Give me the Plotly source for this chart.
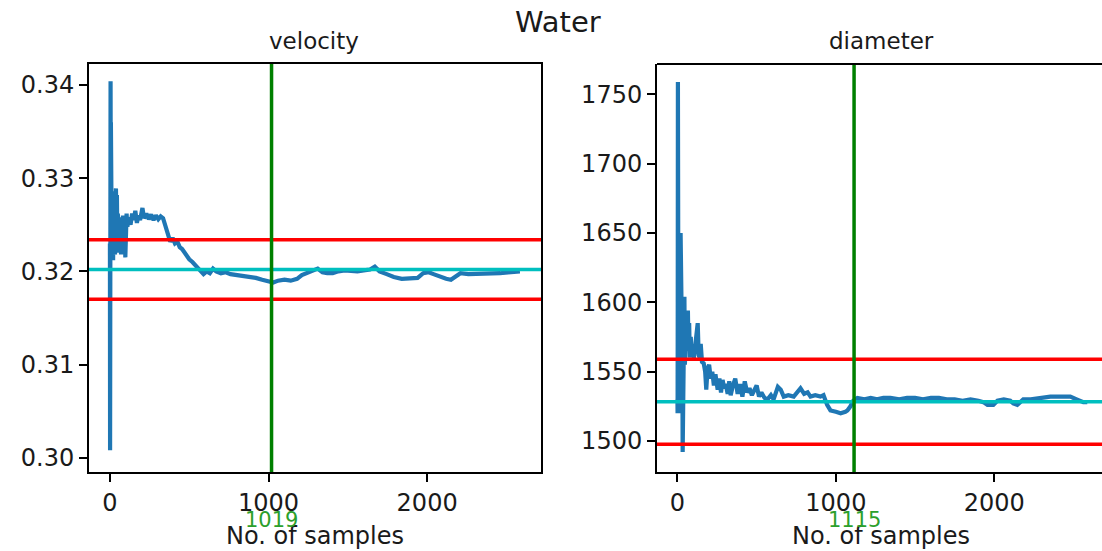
import plotly.graph_objects as go

# ---------------- data ----------------
vel_samples = [0, 1, 2, 3, 4, 5, 6, 7, 8, 9, 10, 12, 14, 16, 18, 20, 23, 26, 29, 32, 35, 38, 41, 44, 47,
               50, 54, 58, 62, 66, 70, 74, 78, 82, 86, 90, 94, 97, 100, 105, 110, 120, 130, 140, 150,
               160, 170, 180, 190, 200, 205, 215, 230, 245, 260, 275, 290, 305, 320, 335, 350, 365,
               380, 395, 410, 425, 440, 455, 470, 485, 500, 520, 540, 560, 575, 590, 610, 630, 650,
               670, 700, 730, 760, 800, 840, 880, 920, 960, 1000, 1030, 1060, 1100, 1140, 1180, 1210,
               1250, 1280, 1310, 1340, 1370, 1405, 1440, 1480, 1520, 1560, 1600, 1640, 1670, 1700,
               1745, 1790, 1840, 1890, 1940, 1975, 2010, 2040, 2080, 2120, 2150, 2180, 2210, 2260,
               2310, 2360, 2410, 2460, 2510, 2550, 2585]
vel_values = [0.3230, 0.3008, 0.3150, 0.3270, 0.3404, 0.3300, 0.3360, 0.3250, 0.3310, 0.3220, 0.3289,
              0.3215, 0.3275, 0.3235, 0.3286, 0.3212, 0.3280, 0.3230, 0.3270, 0.3218, 0.3265, 0.3289,
              0.3240, 0.3282, 0.3225, 0.3262, 0.3220, 0.3258, 0.3230, 0.3255, 0.3218, 0.3250, 0.3238,
              0.3260, 0.3245, 0.3258, 0.3250, 0.3215, 0.3250, 0.3262, 0.3248, 0.3258, 0.3250, 0.3262,
              0.3255, 0.3265, 0.3252, 0.3260, 0.3255, 0.3262, 0.3268, 0.3257, 0.3262, 0.3256, 0.3261,
              0.3255, 0.3260, 0.3256, 0.3259, 0.3257, 0.3248, 0.3240, 0.3232, 0.3236, 0.3230, 0.3232,
              0.3226, 0.3224, 0.3220, 0.3216, 0.3213, 0.3210, 0.3206, 0.3202, 0.3199, 0.3197, 0.3200,
              0.3198, 0.3203, 0.3200, 0.3198, 0.3199, 0.3197, 0.3196, 0.3195, 0.3195, 0.3193, 0.3191,
              0.3189, 0.3188, 0.3190, 0.3191, 0.3190, 0.3192, 0.3196, 0.3199, 0.3201, 0.3203, 0.3199,
              0.3198, 0.3198, 0.3200, 0.3201, 0.3200, 0.3200, 0.3201, 0.3202, 0.3205, 0.3200, 0.3197,
              0.3194, 0.3192, 0.3192, 0.3193, 0.3198, 0.3199, 0.3197, 0.3194, 0.3192, 0.3191, 0.3195,
              0.3198, 0.3197, 0.3197, 0.3198, 0.3197, 0.3198, 0.3199, 0.3200, 0.3200]

dia_samples = [0, 1, 2, 3, 4, 5, 6, 7, 8, 10, 12, 14, 16, 18, 20, 22, 25, 28, 31, 33, 35, 38, 41, 44,
               47, 50, 54, 58, 62, 66, 70, 74, 78, 84, 90, 96, 104, 112, 120, 128, 134, 140, 147, 155,
               166, 175, 182, 190, 200, 210, 220, 230, 240, 254, 265, 275, 285, 295, 305, 317, 327,
               336, 350, 365, 380, 395, 410, 425, 440, 455, 470, 485, 500, 515, 530, 550, 569, 590,
               607, 634, 652, 671, 700, 734, 760, 777, 800, 822, 840, 870, 903, 922, 945, 966, 1000,
               1030, 1060, 1073, 1092, 1110, 1136, 1180, 1220, 1260, 1300, 1344, 1400, 1450, 1500,
               1550, 1600, 1650, 1700, 1750, 1800, 1850, 1900, 1931, 1957, 1994, 2020, 2060, 2101,
               2120, 2145, 2183, 2230, 2280, 2309, 2354, 2400, 2440, 2480, 2520, 2562, 2587]
dia_values = [1530, 1520, 1600, 1759, 1700, 1540, 1650, 1520, 1620, 1550, 1640, 1525, 1600, 1530, 1650,
              1540, 1605, 1520, 1560, 1492, 1530, 1580, 1545, 1604, 1555, 1575, 1560, 1590, 1568, 1594,
              1565, 1585, 1560, 1575, 1562, 1566, 1560, 1568, 1575, 1585, 1562, 1560, 1570, 1557, 1556,
              1550, 1537, 1552, 1555, 1545, 1550, 1540, 1548, 1537, 1545, 1535, 1544, 1538, 1541, 1534,
              1543, 1533, 1540, 1545, 1534, 1541, 1532, 1543, 1535, 1538, 1533, 1536, 1540, 1532, 1535,
              1531, 1530, 1533, 1530, 1539, 1537, 1532, 1533, 1532, 1536, 1538, 1534, 1535, 1532, 1533,
              1532, 1533, 1526, 1522, 1521, 1520, 1521, 1522, 1525, 1529, 1531, 1530, 1531, 1530, 1531,
              1531, 1530, 1531, 1531, 1530, 1531, 1531, 1530, 1530, 1529, 1530, 1529, 1528, 1526, 1526,
              1529, 1530, 1529, 1527, 1526, 1530, 1530, 1531, 1531, 1532, 1532, 1532, 1532, 1530, 1528,
              1528]

vel_mean, vel_upper, vel_lower = 0.3202, 0.3234, 0.3170
dia_mean, dia_upper, dia_lower = 1528.3, 1558.9, 1497.7
vel_conv, dia_conv = 1019, 1115

x_ticks = [0, 1000, 2000]
vel_ticks = [0.30, 0.31, 0.32, 0.33, 0.34]
dia_ticks = [1500, 1550, 1600, 1650, 1700, 1750]

suptitle = "Water"
panel_titles = ["velocity", "diameter"]
x_label = "No. of samples"

# ---------------- layout helpers ----------------
W, H = 1102, 551
FONT = "DejaVu Sans"
TXT = "#1a1a1a"


def fx(p):
    return p / W


def fy(p):
    return 1 - p / H


BLUE, RED, CYAN, GREEN = "#1f77b4", "#ff0000", "#00bfbf", "#008000"
LW = 4.2

fig = go.Figure()
fig.add_trace(go.Scatter(x=vel_samples, y=vel_values, mode="lines",
                         line=dict(color=BLUE, width=LW), xaxis="x", yaxis="y",
                         showlegend=False, hoverinfo="skip"))
fig.add_trace(go.Scatter(x=dia_samples, y=dia_values, mode="lines",
                         line=dict(color=BLUE, width=LW), xaxis="x2", yaxis="y2",
                         showlegend=False, hoverinfo="skip"))

shapes = []
for xr, yr, lo, mean, hi, conv in [("x", "y", vel_lower, vel_mean, vel_upper, vel_conv),
                                    ("x2", "y2", dia_lower, dia_mean, dia_upper, dia_conv)]:
    for val, col in [(mean, CYAN), (hi, RED), (lo, RED)]:
        shapes.append(dict(type="line", xref=f"{xr} domain", yref=yr, x0=0, x1=1, y0=val, y1=val,
                           line=dict(color=col, width=3.5), layer="above"))
    shapes.append(dict(type="line", xref=xr, yref=f"{yr} domain", x0=conv, x1=conv, y0=0, y1=1,
                       line=dict(color=GREEN, width=3.5), layer="above"))
# top border of right panel (its right border is outside the picture)
shapes.append(dict(type="line", xref="x2 domain", yref="y2 domain", x0=0, x1=1, y0=1, y1=1,
                   line=dict(color="black", width=2), layer="above"))

axis_common = dict(showgrid=False, zeroline=False, showline=True, linecolor="black", linewidth=2,
                   ticks="outside", ticklen=8, tickwidth=2, tickcolor="black",
                   tickfont=dict(family=FONT, size=24, color=TXT))

y_dom = [fy(472), fy(64)]
fig.update_layout(
    width=W, height=H, margin=dict(l=0, r=0, t=0, b=0),
    paper_bgcolor="white", plot_bgcolor="white", showlegend=False,
    xaxis=dict(domain=[fx(89), fx(541)], range=[-132, 2718], tickvals=x_ticks, mirror=True,
               anchor="y", **axis_common),
    yaxis=dict(domain=y_dom, range=[0.29847, 0.34225], tickvals=vel_ticks,
               tickformat=".2f", mirror=True, anchor="x", **axis_common),
    xaxis2=dict(domain=[fx(657), 1.0], range=[-129, 2680], tickvals=x_ticks, mirror=False,
                anchor="y2", **axis_common),
    yaxis2=dict(domain=y_dom, range=[1477.6, 1771.9], tickvals=dia_ticks, mirror=False,
                anchor="x2", **axis_common),
    shapes=shapes,
)

ann = [
    dict(text=suptitle, x=fx(558), y=fy(22), xref="paper", yref="paper", showarrow=False,
         xanchor="center", yanchor="middle", font=dict(family=FONT, size=29, color=TXT)),
    dict(text=panel_titles[0], x=fx(314), y=fy(41), xref="paper", yref="paper", showarrow=False,
         xanchor="center", yanchor="middle", font=dict(family=FONT, size=23, color=TXT)),
    dict(text=panel_titles[1], x=fx(881), y=fy(41), xref="paper", yref="paper", showarrow=False,
         xanchor="center", yanchor="middle", font=dict(family=FONT, size=23, color=TXT)),
    dict(text=x_label, x=fx(315), y=fy(536), xref="paper", yref="paper", showarrow=False,
         xanchor="center", yanchor="middle", font=dict(family=FONT, size=24, color=TXT)),
    dict(text=x_label, x=fx(881), y=fy(536), xref="paper", yref="paper", showarrow=False,
         xanchor="center", yanchor="middle", font=dict(family=FONT, size=24, color=TXT)),
    dict(text=str(vel_conv), x=vel_conv, y=fy(520), xref="x", yref="paper", showarrow=False,
         xanchor="center", yanchor="middle", font=dict(family=FONT, size=21, color="#2ca02c")),
    dict(text=str(dia_conv), x=dia_conv, y=fy(520), xref="x2", yref="paper", showarrow=False,
         xanchor="center", yanchor="middle", font=dict(family=FONT, size=21, color="#2ca02c")),
]
fig.update_layout(annotations=ann)

fig.write_html("out.html", config={"displayModeBar": False},
               post_script="document.body.style.margin='0px';document.body.style.overflow='hidden';")
